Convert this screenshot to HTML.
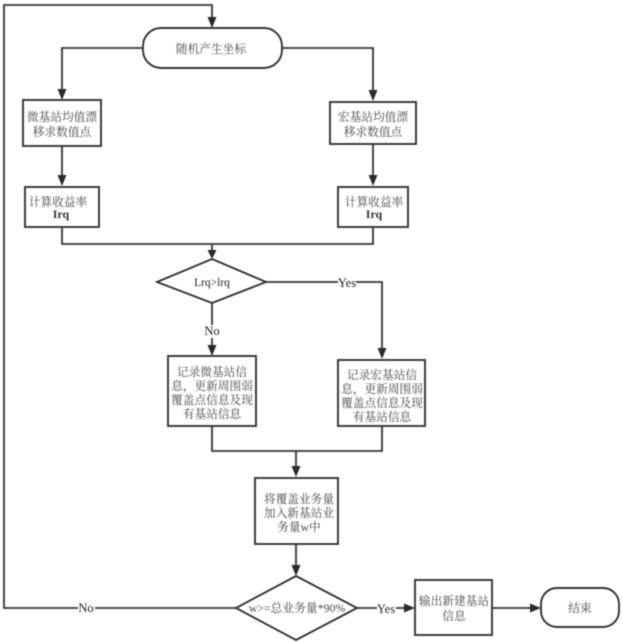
<!DOCTYPE html>
<html><head><meta charset="utf-8">
<style>
html,body{margin:0;padding:0;background:#fff;width:623px;height:642px;overflow:hidden}
svg{display:block;filter:blur(.45px)}
text{font-family:"Liberation Serif","Noto Serif CJK SC",serif;font-size:11.7px;fill:#484848;text-anchor:middle}
.s{fill:#fff;stroke:#333;stroke-width:1.9}
.l{fill:none;stroke:#333;stroke-width:1.8}
.a{fill:#2a2a2a;stroke:none}
.lab{font-size:12.5px;fill:#222}
</style></head><body>
<svg width="623" height="642" viewBox="0 0 623 642" xmlns="http://www.w3.org/2000/svg">
<!-- connectors -->
<path class="l" d="M237 608H4V5H212V20"/>
<path class="l" d="M143 48H62V92"/>
<path class="l" d="M282 48H373V92"/>
<path class="l" d="M62 146V178"/>
<path class="l" d="M373 144V178"/>
<path class="l" d="M62 227V244H373V227"/>
<path class="l" d="M212 244V256"/>
<path class="l" d="M266 282H382V350"/>
<path class="l" d="M212 303V348"/>
<path class="l" d="M212 426V451H382V426"/>
<path class="l" d="M296 451V468"/>
<path class="l" d="M296 544V568"/>
<path class="l" d="M357 608H407"/>
<path class="l" d="M492 608H533"/>
<!-- arrowheads -->
<polygon class="a" points="207.500,17 216.500,17 212,28"/>
<polygon class="a" points="57.500,89 66.500,89 62,100"/>
<polygon class="a" points="368.500,90 377.500,90 373,101"/>
<polygon class="a" points="57.500,175 66.500,175 62,186"/>
<polygon class="a" points="368.500,175 377.500,175 373,186"/>
<polygon class="a" points="207.500,250 216.500,250 212,259"/>
<polygon class="a" points="377.500,348 386.500,348 382,359"/>
<polygon class="a" points="207.500,345 216.500,345 212,356"/>
<polygon class="a" points="291.500,466 300.500,466 296,477"/>
<polygon class="a" points="291.500,565 300.500,565 296,576"/>
<polygon class="a" points="404,603.500 404,612.500 415,608"/>
<polygon class="a" points="530,603.500 530,612.500 541,608"/>
<!-- shapes -->
<rect class="s" x="143" y="28" width="139" height="40" rx="18" ry="18"/>
<rect class="s" x="23" y="100" width="78" height="46"/>
<rect class="s" x="330" y="102" width="86" height="42"/>
<rect class="s" x="25" y="187" width="74" height="40"/>
<rect class="s" x="338" y="187" width="70" height="40"/>
<polygon class="s" points="212,259 266,282 212,303 157,282"/>
<rect class="s" x="168" y="356" width="88" height="70"/>
<rect class="s" x="338" y="360" width="87" height="66"/>
<rect class="s" x="255" y="478" width="83" height="66"/>
<polygon class="s" points="296,576 357,608 296,640 236,608"/>
<rect class="s" x="415" y="580" width="77" height="55"/>
<rect class="s" x="541" y="588" width="78" height="39" rx="16" ry="16"/>
<!-- node text -->
<text x="211" y="53">随机产生坐标</text>
<text x="62" y="121">微基站均值漂</text>
<text x="62" y="136">移求数值点</text>
<text x="373" y="121">宏基站均值漂</text>
<text x="373" y="136">移求数值点</text>
<text x="58" y="206">计算收益率</text>
<text x="61" y="218" style="font-size:12px;font-weight:bold;fill:#333">Irq</text>
<text x="374" y="206">计算收益率</text>
<text x="374" y="218" style="font-size:12px;font-weight:bold;fill:#333">Irq</text>
<text x="212" y="286" style="font-size:11.5px;fill:#222">Lrq&gt;lrq</text>
<text x="212" y="376">记录微基站信</text>
<text x="212" y="390">息，更新周围弱</text>
<text x="212" y="404">覆盖点信息及现</text>
<text x="212" y="418">有基站信息</text>
<text x="382" y="379">记录宏基站信</text>
<text x="382" y="393">息，更新周围弱</text>
<text x="382" y="407">覆盖点信息及现</text>
<text x="382" y="421">有基站信息</text>
<text x="299" y="503">将覆盖业务量</text>
<text x="299" y="517">加入新基站业</text>
<text x="299" y="531">务量w中</text>
<text x="297" y="612" style="font-size:11.8px">w&gt;=总业务量*90%</text>
<text x="454" y="605">输出新建基站</text>
<text x="454" y="620">信息</text>
<text x="580" y="612">结束</text>
<!-- connector labels -->
<rect x="338" y="276" width="18" height="13" fill="#fff"/>
<text class="lab" x="347" y="287">Yes</text>
<rect x="203" y="325" width="18" height="13" fill="#fff"/>
<text class="lab" x="212" y="335">No</text>
<rect x="78" y="601" width="17" height="14" fill="#fff"/>
<text class="lab" x="86" y="612">No</text>
<rect x="377" y="601" width="19" height="14" fill="#fff"/>
<text class="lab" x="386" y="613">Yes</text>
</svg>
</body></html>
